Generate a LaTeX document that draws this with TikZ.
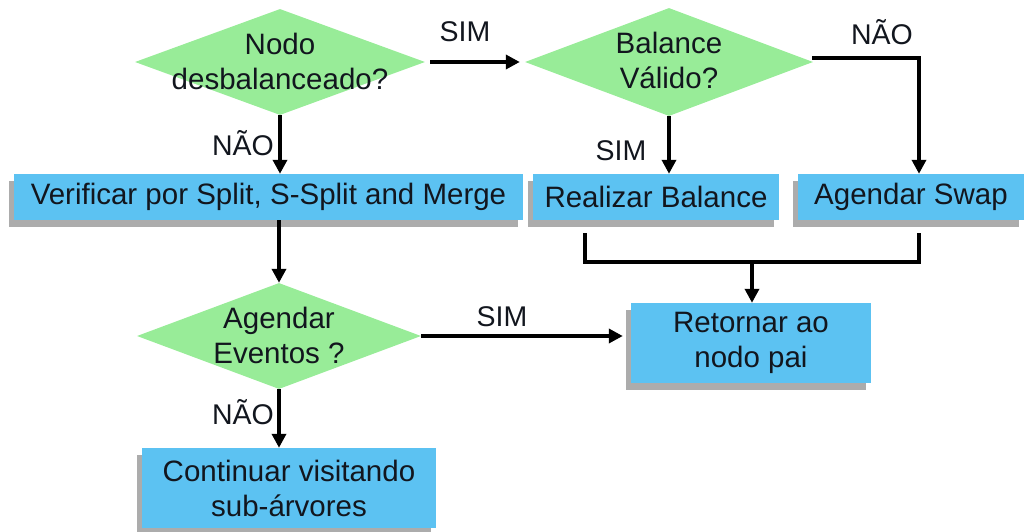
\documentclass[tikz,border=0pt]{standalone}
\usepackage{fontspec}
\setmainfont{Liberation Sans}
\usetikzlibrary{shapes.geometric,shadows,arrows.meta}
\definecolor{decgreen}{RGB}{152,236,152}
\definecolor{stepblue}{RGB}{92,194,242}
\definecolor{shadowgray}{RGB}{172,172,172}
\definecolor{inkdark}{RGB}{18,22,30}
\begin{document}
\begin{tikzpicture}[x=1pt,y=-1pt,
  txt/.style={font=\fontsize{29.5}{35}\selectfont, align=center, text=inkdark},
  lbl/.style={font=\fontsize{28.5}{32}\selectfont, text=inkdark, inner sep=0pt},
  decision/.style={diamond, fill=decgreen, inner sep=0pt, minimum height=106pt},
  actionbox/.style={rectangle, fill=stepblue, inner sep=0pt, txt,
    drop shadow={shadow xshift=-5pt, shadow yshift=-7pt, fill=shadowgray, opacity=1}},
  flow/.style={line width=4pt, -{Triangle[length=14pt,width=14pt]}},
  joinline/.style={line width=4pt}
]
\useasboundingbox (0,0) rectangle (1034,532);

% decisions
\node[decision, minimum width=290pt] (d1) at (280,62) {};
\node[txt] (t1) at (280,61) {Nodo\\desbalanceado?};
\node[decision, minimum width=288pt, minimum height=108pt] (d2) at (669,62) {};
\node[txt] (t2) at (669,60) {Balance\\Válido?};
\node[decision, minimum width=284pt] (d3) at (279,336) {};
\node[txt] (t3) at (279,335) {Agendar\\Eventos ?};

% actions
\node[actionbox, minimum width=509pt, minimum height=46pt] (verif) at (268.5,197) {Verificar por Split, S-Split and Merge};
\node[actionbox, minimum width=246pt, minimum height=46pt] (real) at (656,197) {Realizar Balance};
\node[actionbox, minimum width=226pt, minimum height=46pt] (swap) at (911,197) {Agendar Swap};
\node[actionbox, minimum width=240pt, minimum height=80pt] (ret) at (751,343) {Retornar ao\\nodo pai};
\node[actionbox, minimum width=294pt, minimum height=80pt] (cont) at (289,488) {Continuar visitando\\sub-árvores};

% joining bracket under the two right-hand actions
\coordinate (bl) at (585,233);
\coordinate (br) at (919,233);
\coordinate (jl) at (585,262);
\coordinate (jr) at (919,262);
\coordinate (jm) at (752,262);
\coordinate (d2out) at (812,58);

% connectors
\draw[flow, shorten <=5pt, shorten >=5pt] (d1.east) -- (d2.west);
\draw[flow] (d1.south) -- (d1.south |- verif.north);
\draw[flow] (d2out) -- (d2out -| br) -- (br |- swap.north);
\draw[flow] (d2.south) -- (d2.south |- real.north);
\draw[flow] (d3.north |- verif.south) -- (d3.north);
\draw[joinline] (bl) -- (jl) -- (jr) -- (br);
\draw[flow] (jm) -- (jm |- ret.north);
\draw[flow, shorten >=8pt] (d3.east) -- (ret.west |- d3.east);
\draw[flow] (d3.south) -- (d3.south |- cont.north);

% branch labels
\node[lbl] (l1) at (465,32) {SIM};
\node[lbl] (l2) at (882,32) {NÃO};
\node[lbl] (l3) at (243,143) {NÃO};
\node[lbl] (l4) at (621,151) {SIM};
\node[lbl] (l5) at (502,317) {SIM};
\node[lbl] (l6) at (243,412) {NÃO};
\end{tikzpicture}
\end{document}
